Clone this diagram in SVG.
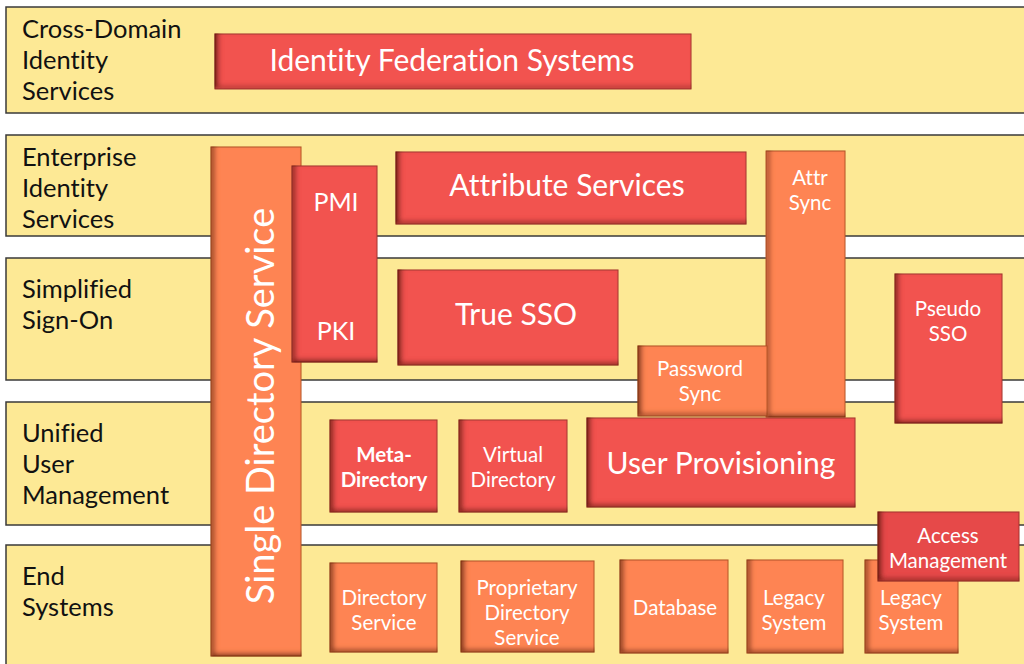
<svg xmlns="http://www.w3.org/2000/svg" width="1024" height="664" viewBox="0 0 1024 664">
  <style>
    text { font-variant-ligatures: none; font-feature-settings: "liga" 0, "dlig" 0; }
    .band { fill: #fde995; stroke: #3a3a3a; stroke-width: 1.5; }
    .blabel { font-family: Lato, "Liberation Sans", sans-serif; font-size: 25.5px; fill: #111; }
    .red { fill: #f25350; stroke: #a83a34; stroke-width: 1; filter: url(#bevel); }
    .org { fill: #fe8452; stroke: #b8582e; stroke-width: 1; filter: url(#bevel); }
    .acc { fill: #e64949; stroke: #a83a34; stroke-width: 1; filter: url(#bevel); }
    .t { font-family: Lato, "Liberation Sans", sans-serif; fill: #fff; text-anchor: middle; }
    .s20 { font-size: 20.5px; }
    .s24 { font-size: 25px; }
    .s28 { font-size: 30px; }
  </style>
  <defs>
    <!-- inner shadow along the left and bottom edges of each box -->
    <filter id="bevel" x="-5%" y="-5%" width="110%" height="110%">
      <feComponentTransfer in="SourceAlpha" result="inv">
        <feFuncA type="table" tableValues="1 0"/>
      </feComponentTransfer>
      <feGaussianBlur in="inv" stdDeviation="2.5"/>
      <feOffset dx="4" dy="-3" result="off"/>
      <feFlood flood-color="#5a1208" flood-opacity="0.9"/>
      <feComposite in2="off" operator="in"/>
      <feComposite in2="SourceAlpha" operator="in" result="shadow"/>
      <feMerge>
        <feMergeNode in="SourceGraphic"/>
        <feMergeNode in="shadow"/>
      </feMerge>
    </filter>
  </defs>

  <rect width="1024" height="664" fill="#fff"/>

  <!-- layer bands -->
  <g id="bands">
    <rect class="band" x="6" y="7" width="1030" height="106"/>
    <rect class="band" x="6" y="135" width="1030" height="101"/>
    <rect class="band" x="6" y="258" width="1030" height="122"/>
    <rect class="band" x="6" y="402" width="1030" height="123"/>
    <rect class="band" x="6" y="545" width="1030" height="130"/>
    <text class="blabel" x="22" y="38">Cross-Domain</text>
    <text class="blabel" x="22" y="69">Identity</text>
    <text class="blabel" x="22" y="100">Services</text>
    <text class="blabel" x="22" y="166">Enterprise</text>
    <text class="blabel" x="22" y="197">Identity</text>
    <text class="blabel" x="22" y="228">Services</text>
    <text class="blabel" x="22" y="298">Simplified</text>
    <text class="blabel" x="22" y="329">Sign-On</text>
    <text class="blabel" x="22" y="442">Unified</text>
    <text class="blabel" x="22" y="473">User</text>
    <text class="blabel" x="22" y="504">Management</text>
    <text class="blabel" x="22" y="585">End</text>
    <text class="blabel" x="22" y="616">Systems</text>
  </g>

  <g id="connectors"/>

  <g id="identity-federation">
    <rect class="red" x="215" y="34" width="476" height="55"/>
    <text class="t s28" x="452" y="71">Identity Federation Systems</text>
  </g>

  <g id="single-directory">
    <rect class="org" x="211" y="147" width="90" height="509"/>
    <text class="t" font-size="38" transform="translate(274,406) rotate(-90)">Single Directory Service</text>
  </g>

  <g id="pmi-pki">
    <rect class="red" x="292" y="166" width="85" height="196"/>
    <text class="t s24" x="336" y="211">PMI</text>
    <text class="t s24" x="336" y="340">PKI</text>
  </g>

  <g id="attribute-services">
    <rect class="red" x="396" y="152" width="350" height="72"/>
    <text class="t s28" x="567" y="196">Attribute Services</text>
  </g>

  <g id="attr-sync">
    <rect class="org" x="766" y="151" width="79" height="266"/>
    <text class="t s20" x="810" y="185">Attr</text>
    <text class="t s20" x="810" y="210">Sync</text>
  </g>

  <g id="true-sso">
    <rect class="red" x="398" y="270" width="220" height="95"/>
    <text class="t s28" x="516" y="325">True SSO</text>
  </g>

  <g id="password-sync">
    <rect class="org" x="638" y="346" width="129" height="70"/>
    <text class="t s20" x="700" y="376">Password</text>
    <text class="t s20" x="700" y="401">Sync</text>
  </g>

  <g id="pseudo-sso">
    <rect class="red" x="895" y="274" width="107" height="149"/>
    <text class="t s20" x="948" y="316">Pseudo</text>
    <text class="t s20" x="948" y="341">SSO</text>
  </g>

  <g id="meta-directory">
    <rect class="red" x="330" y="420" width="107" height="92"/>
    <text class="t s20" font-weight="bold" x="384" y="462">Meta-</text>
    <text class="t s20" font-weight="bold" x="384" y="487">Directory</text>
  </g>

  <g id="virtual-directory">
    <rect class="red" x="459" y="420" width="108" height="92"/>
    <text class="t s20" x="513" y="462">Virtual</text>
    <text class="t s20" x="513" y="487">Directory</text>
  </g>

  <g id="user-provisioning">
    <rect class="red" x="587" y="418" width="268" height="89"/>
    <text class="t s28" x="721" y="474">User Provisioning</text>
  </g>

  <g id="directory-service">
    <rect class="org" x="330" y="563" width="107" height="89"/>
    <text class="t s20" x="384" y="605">Directory</text>
    <text class="t s20" x="384" y="630">Service</text>
  </g>

  <g id="proprietary-directory">
    <rect class="org" x="461" y="561" width="133" height="91"/>
    <text class="t s20" x="527" y="595">Proprietary</text>
    <text class="t s20" x="527" y="620">Directory</text>
    <text class="t s20" x="527" y="645">Service</text>
  </g>

  <g id="database">
    <rect class="org" x="620" y="560" width="108" height="93"/>
    <text class="t s20" x="675" y="615">Database</text>
  </g>

  <g id="legacy-system-1">
    <rect class="org" x="747" y="560" width="96" height="93"/>
    <text class="t s20" x="794" y="605">Legacy</text>
    <text class="t s20" x="794" y="630">System</text>
  </g>

  <g id="legacy-system-2">
    <rect class="org" x="865" y="560" width="93" height="93"/>
    <text class="t s20" x="911" y="605">Legacy</text>
    <text class="t s20" x="911" y="630">System</text>
  </g>

  <g id="access-management">
    <rect class="acc" x="878" y="512" width="141" height="69"/>
    <text class="t s20" x="948" y="543">Access</text>
    <text class="t s20" x="948" y="568">Management</text>
  </g>
</svg>
